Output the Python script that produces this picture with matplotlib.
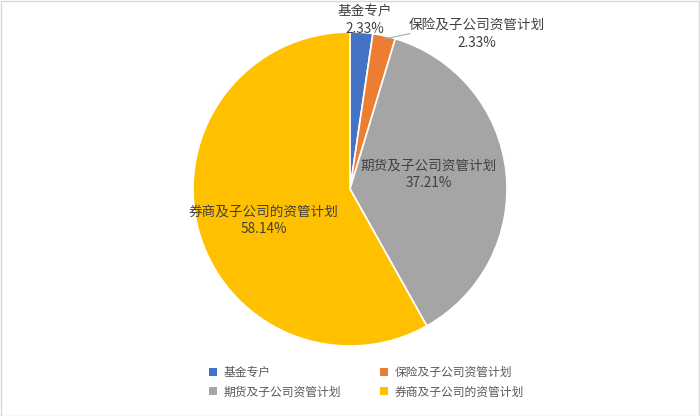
import matplotlib
matplotlib.use("Agg")
import matplotlib.pyplot as plt
from matplotlib.patches import Rectangle

plt.rcParams['font.family'] = ['Noto Sans CJK SC', 'DejaVu Sans']

categories = ["基金专户", "保险及子公司资管计划", "期货及子公司资管计划", "券商及子公司的资管计划"]
values = [2.33, 2.33, 37.21, 58.14]
colors = ["#4472C4", "#ED7D31", "#A5A5A5", "#FFC000"]

# label placement (text positions in pie-radius units)
label_pos = [(0.095, 1.075), (0.81, 0.985), (0.50, 0.095), (-0.55, -0.20)]

W, H = 700, 416
cx, cy, R = 350, 189, 157
fig = plt.figure(figsize=(W / 100, H / 100), dpi=100)
ax = fig.add_axes([0, 0, 1, 1])
ax.axis('off')

wedges, _ = ax.pie(values, colors=colors, startangle=90, counterclock=False,
                   radius=1.0, wedgeprops=dict(edgecolor='white', linewidth=1.2))
ax.set_aspect('auto')
ax.set_xlim(-cx / R, (W - cx) / R)
ax.set_ylim(-(H - cy) / R, cy / R)

for cat, v, (lx, ly) in zip(categories, values, label_pos):
    ax.text(lx, ly, f"{cat}\n{v:.2f}%", ha='center', va='center', fontsize=9.8,
            color='#404040', linespacing=1.35)

# leader line for the small second slice
ax.plot([0.38, 0.22], [0.99, 0.955], color='#A6A6A6', lw=0.8)

# legend filled row by row (matplotlib fills by column)
order = [0, 2, 1, 3]
handles = [Rectangle((0, 0), 1, 1, facecolor=colors[i], edgecolor='none') for i in order]
labels = [categories[i] for i in order]
leg = fig.legend(handles, labels, ncol=2, loc='upper left',
                 bbox_to_anchor=(209 / W, 1 - 366 / H), frameon=False,
                 fontsize=8.5, handlelength=0.7, handleheight=0.7,
                 handletextpad=0.55, columnspacing=3.3, labelspacing=0.55,
                 borderpad=0, borderaxespad=0)
for t in leg.get_texts():
    t.set_color('#595959')

fig.patches.append(Rectangle((0.5 / W, 0.5 / H), 1 - 1.5 / W, 1 - 1.5 / H,
                             transform=fig.transFigure, fill=False,
                             edgecolor='#D9D9D9', lw=1))
fig.savefig("out.png", dpi=100)
